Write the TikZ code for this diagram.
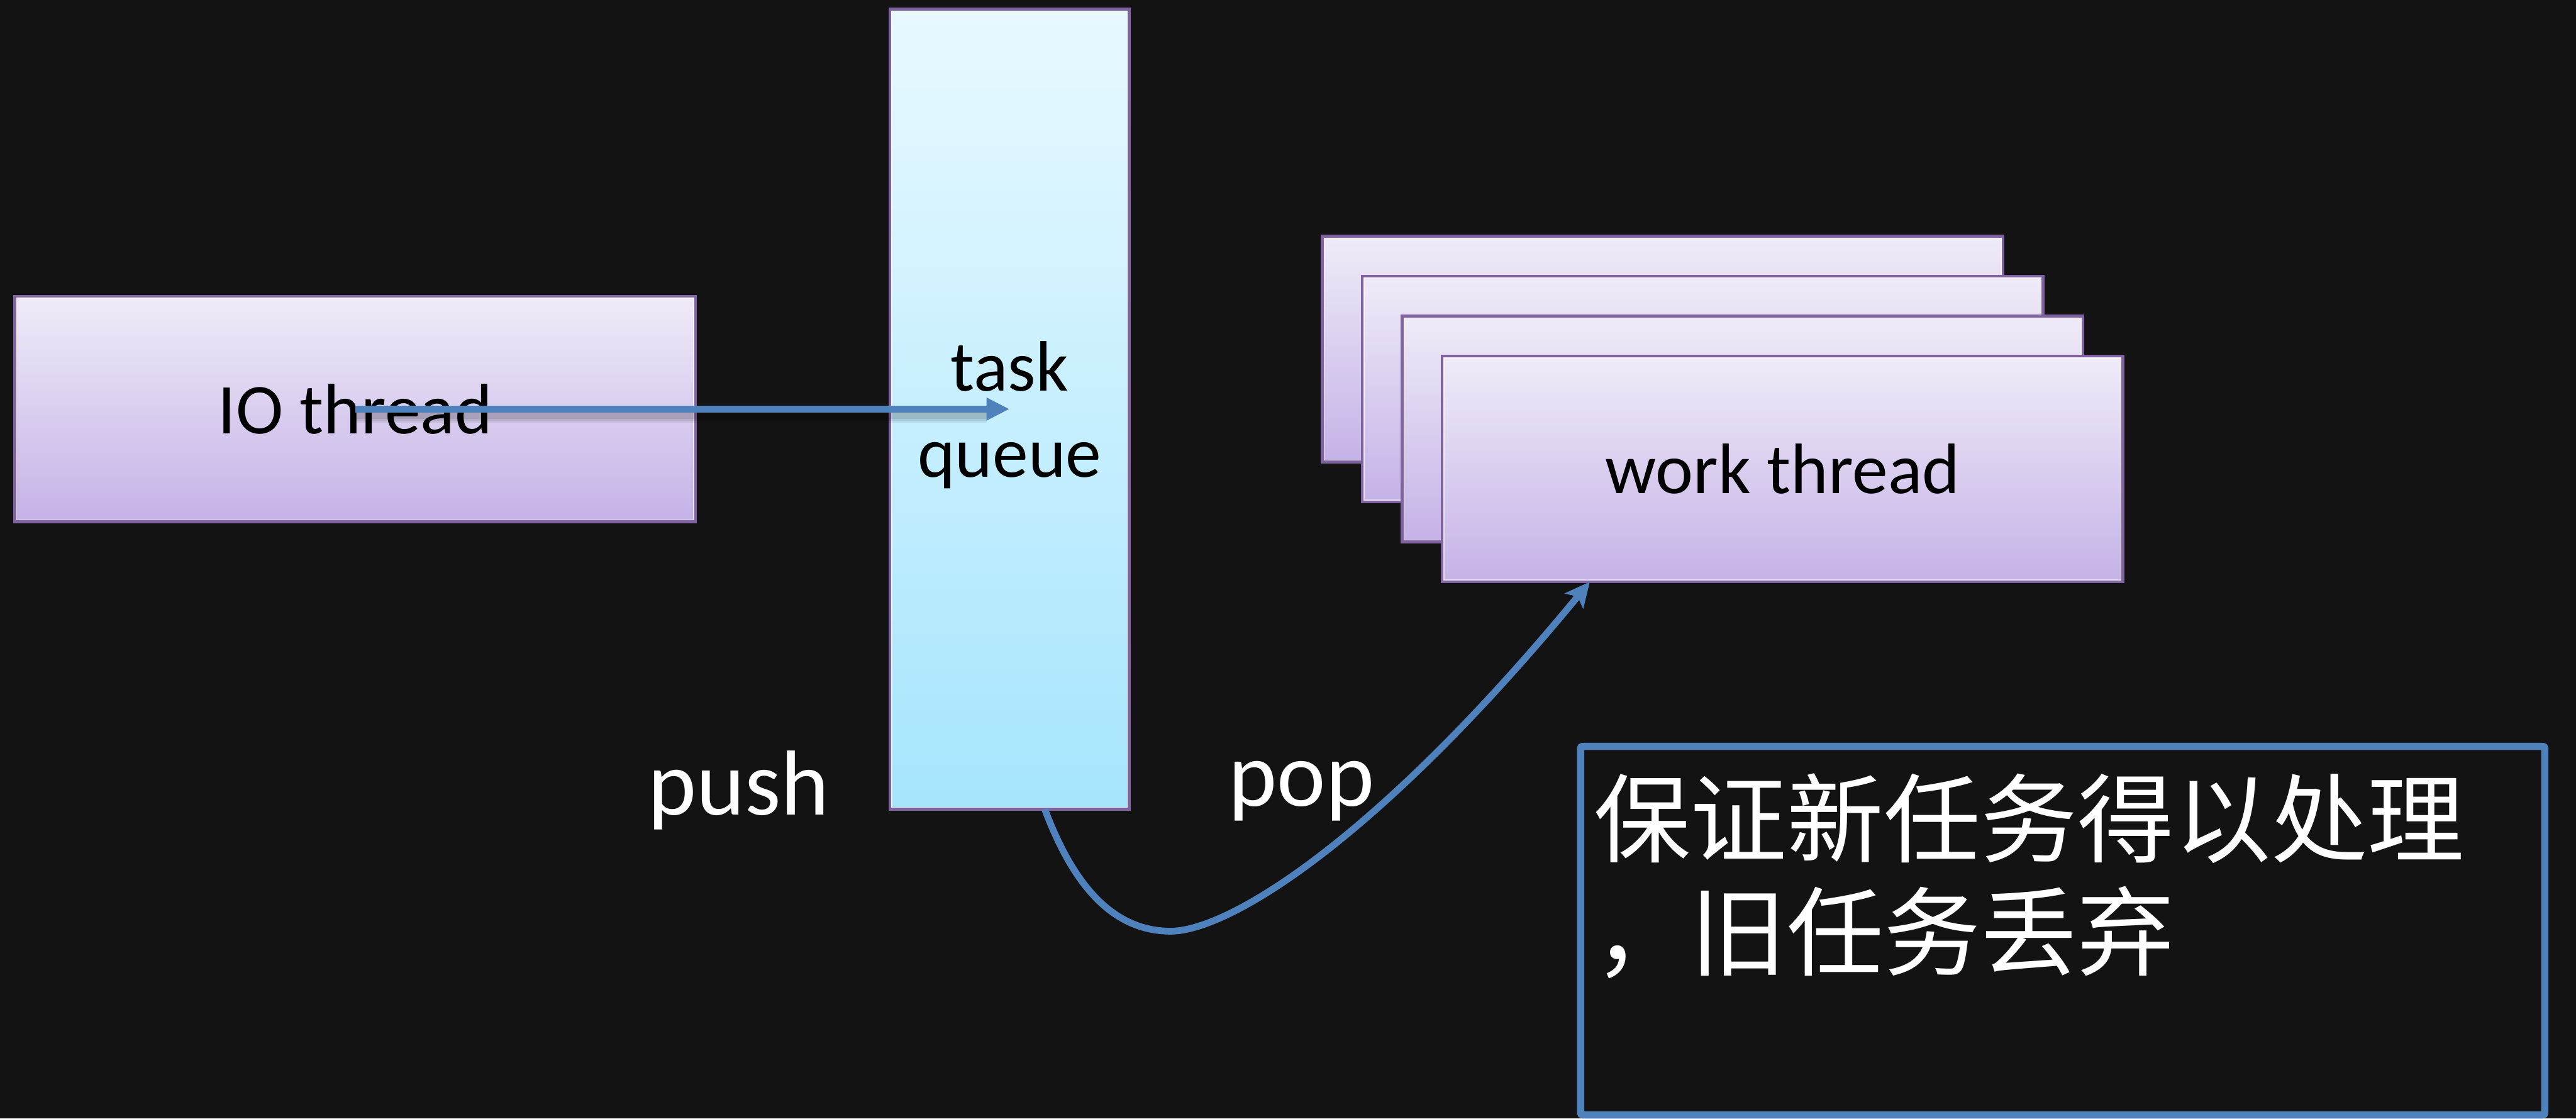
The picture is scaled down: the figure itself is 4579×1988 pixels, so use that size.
\documentclass[tikz,border=0pt]{standalone}
\usepackage{fontspec}
\setmainfont{Carlito}
\newfontfamily\cjk{Noto Sans CJK SC}
\usetikzlibrary{arrows.meta}

\definecolor{bg}{HTML}{131313}
\definecolor{boxedge}{HTML}{8064A2}
\definecolor{liltop}{RGB}{240,235,248}
\definecolor{lilbot}{RGB}{196,178,230}
\definecolor{cyantop}{RGB}{232,249,255}
\definecolor{cyanbot}{RGB}{166,229,253}
\definecolor{flow}{HTML}{4F81BD}

\tikzset{
  panel/.style={draw=boxedge, line width=1.25pt, inner sep=0pt, outer sep=0pt,
    path picture={\draw[white, opacity=0.6, line width=0.4pt]
      ([shift={(0.85pt,-0.85pt)}]path picture bounding box.north west) rectangle
      ([shift={(-0.85pt,0.85pt)}]path picture bounding box.south east);}},
  thread/.style={panel, top color=liltop, bottom color=lilbot,
    minimum width=302.5pt, minimum height=100.25pt,
    font=\fontsize{31.75}{38.25}\selectfont},
  queuebox/.style={panel, top color=cyantop, bottom color=cyanbot,
    minimum width=106.25pt, minimum height=355.5pt, align=center, text depth=0pt,
    font=\fontsize{31.75}{38.25}\selectfont},
  oplabel/.style={text=white, font=\fontsize{41}{49}\selectfont, inner sep=0pt, anchor=base},
  note/.style={text=white, font=\cjk\fontsize{43}{52}\selectfont, inner sep=0pt, anchor=base west},
  notebox/.style={draw=flow, line width=3.25pt, rounded corners=1pt, inner sep=0pt, outer sep=0pt},
  flowline/.style={draw=flow, line width=3pt},
  softshadow/.style={black, opacity=0.08, line width=#1},
}

\begin{document}
\begin{tikzpicture}[x=0.25pt, y=-0.25pt]
  \useasboundingbox (0,0) rectangle (4579,1988);
  \fill[bg] (0,0) rectangle (4579,1988);

  % producer and queue
  \node[thread] (io) at (631.5,727) {IO thread};
  \node[queuebox] (queue) at (1794.5,727) {task\\queue};

  % stack of worker threads, back to front
  \node[thread] (wt1) at (2955.5,620.5) {};
  \node[thread] (wt2) at (3026.5,691.5) {};
  \node[thread] (wt3) at (3097.5,762.5) {};
  \node[thread] (wt4) at (3168.5,833.5) {work thread};

  % push arrow with a soft shadow
  \foreach \w in {6pt,4.5pt,3pt}
    \draw[softshadow=\w]
      ([yshift=-3pt]io.center) -- ([yshift=-3pt, xshift=-10pt]queue.center);
  \draw[flowline, -{Triangle[length=10.25pt, width=9.5pt]}] (io.center) -- (queue.center);

  % pop arrow
  \coordinate (popstart) at ([xshift=15.625pt]queue.south);
  \coordinate (popend) at ([xshift=-85.625pt]wt4.south);
  \draw[flowline, -{Stealth[length=11pt, width=10.5pt, inset=2.5pt]}]
    (popstart) .. controls (1903,1560) and (1970,1655) .. (2081,1655)
    .. controls (2181,1655) and (2442,1500) .. (popend);

  \node[oplabel] (push) at (1313,1448) {push};
  \node[oplabel] (pop) at (2313.5,1433) {pop};

  % note
  \node[notebox, minimum width=428.5pt, minimum height=163.75pt] (note) at (3666.5,1654) {};
  \node[note] (line1) at (2832,1520) {保证新任务得以处理};
  \node[note] (line2) at (2832,1721) {，旧任务丢弃};
\end{tikzpicture}
\end{document}
